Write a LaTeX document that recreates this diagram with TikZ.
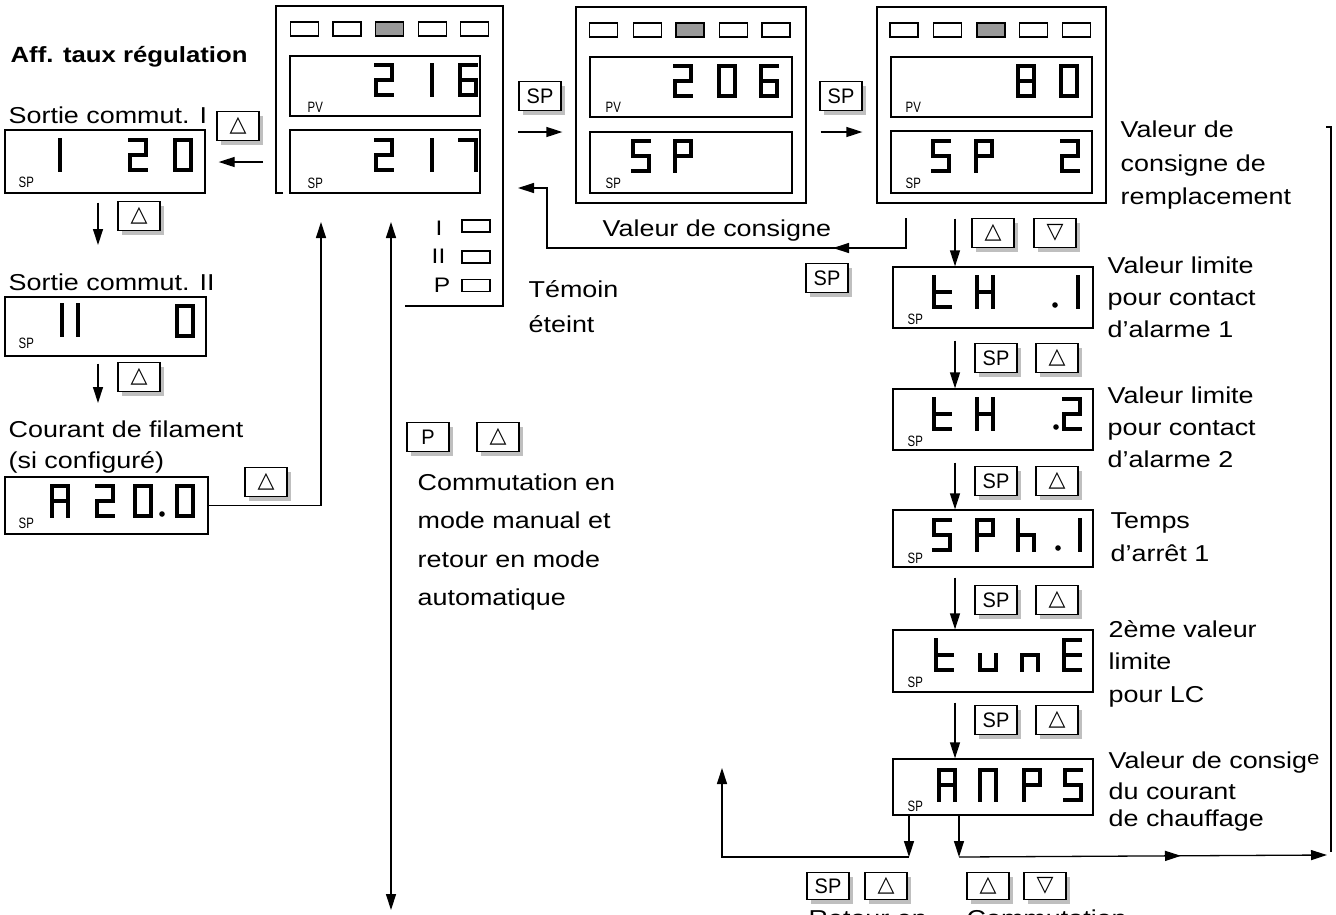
\documentclass[tikz,border=0pt]{standalone}
\usepackage{fontspec}
\setmainfont[FakeStretch=1.17]{Liberation Sans}
\newfontfamily\lblfont[FakeStretch=0.76]{Liberation Sans}
\newfontfamily\btnfont[FakeStretch=0.95]{Liberation Sans}
\newfontfamily\symfont{DejaVu Sans}
\usetikzlibrary{arrows.meta,shadows,decorations.markings}
% seven-segment pieces (cell 20 x 34)
\def\SA{(2,2)--(18,2)}
\def\SB{(18,2)--(18,17)}
\def\SC{(18,17)--(18,32)}
\def\SD{(2,32)--(18,32)}
\def\SE{(2,17)--(2,32)}
\def\SF{(2,2)--(2,17)}
\def\SG{(2,17)--(18,17)}
\def\sgone{\SB\SC}
\def\sgtwo{\SA\SB\SG\SE\SD}
\def\sgsix{\SA\SF\SG\SE\SD\SC}
\def\sgseven{\SA\SB\SC}
\def\sgzero{\SA\SB\SC\SD\SE\SF}
\def\sgeight{\SA\SB\SC\SD\SE\SF\SG}
\def\sgfive{\SA\SF\SG\SC\SD}
\def\sgP{\SA\SB\SG\SF\SE}
\def\sgA{\SA\SB\SC\SE\SF\SG}
\def\sgH{\SB\SC\SE\SF\SG}
\def\sgt{\SF\SE\SG\SD}
\def\sgh{\SF\SE\SG\SC}
\def\sgu{\SE\SD\SC}
\def\sgn{\SG\SE\SC}
\def\sgE{\SA\SF\SG\SE\SD}
\def\sgM{\SA\SB\SC\SE\SF}
\newcommand\gl[3]{\draw[seg,shift={(#1,#2)}] #3;}
\begin{document}
\begin{tikzpicture}[x=1pt,y=-1pt,line width=1.3pt,
  disp/.style={draw,line width=1.3pt,inner sep=0pt},
  panel/.style={draw,line width=1.3pt,inner sep=0pt},
  btn/.style={draw,fill=white,line width=1.2pt,minimum width=42pt,minimum height=29pt,inner sep=0pt,
     drop shadow={shadow xshift=4pt,shadow yshift=-4pt,fill=black!50}},
  spbtn/.style={btn,font=\btnfont\fontsize{21}{21}\selectfont},
  tribtn/.style={btn,font=\symfont\fontsize{22}{22}\selectfont},
  led/.style={draw,line width=1.1pt,minimum width=28pt,minimum height=14pt,inner sep=0pt},
  ledon/.style={led,fill=black!40},
  lbl/.style={font=\lblfont\fontsize{15}{15}\selectfont,anchor=base west,inner sep=0pt},
  txt/.style={font=\fontsize{23}{28}\selectfont,anchor=base west,inner sep=0pt},
  seg/.style={line width=4.4pt,line cap=rect},
  tip/.tip={Triangle[length=16pt,width=10pt]},
  arr/.style={-tip,line width=1.3pt},
  arrtwo/.style={tip-tip,line width=1.3pt},
  midarr/.style={postaction={decorate,decoration={markings,mark=at position #1 with {\arrow{Triangle[length=16pt,width=10pt]}}}}}
]
\fill[white] (0,0) rectangle (1336,914);
\useasboundingbox (0,0) rectangle (1336,914);

% ---------- left column ----------
\node[txt,font=\fontsize{22}{26}\selectfont\bfseries] (title) at (10,62) {Aff. taux régulation};
\node[txt] (s1) at (8,123) {Sortie commut. I};
\node[disp,minimum width=200pt,minimum height=63pt] (d1) at (105,161.5) {};
\node[lbl] (d1l) at (18,187) {SP};
\gl{42}{138}{\sgone} \gl{128}{138}{\sgtwo} \gl{173}{138}{\sgzero}
\node[tribtn] (b1) at (238,126) {△};
\node[tribtn] (b2) at (139,216) {△};

\node[txt] (s2) at (8,290) {Sortie commut. II};
\node[disp,minimum width=201pt,minimum height=59pt] (d2) at (105.5,326.5) {};
\node[lbl] (d2l) at (18,348) {SP};
\draw[seg] (62,305)--(62,335) (78,305)--(78,335);
\gl{175}{304}{\sgzero}
\node[tribtn] (b3) at (139,377) {△};

\node[txt] (s3a) at (8,437) {Courant de filament};
\node[txt] (s3b) at (8,468) {(si configuré)};
\node[disp,minimum width=203pt,minimum height=57pt] (d3) at (106.5,505.5) {};
\node[lbl] (d3l) at (18,528) {SP};
\gl{50}{484}{\sgA} \gl{95}{484}{\sgtwo} \gl{133}{484}{\sgzero}
\fill (162,514) circle (2.8); \gl{175}{484}{\sgzero}
\node[tribtn] (b4) at (266,482) {△};

% ---------- panel 1 ----------
\draw[line width=1.3pt] (283,193) -- (276,193) -- (276,6) -- (503,6) -- (503,306) -- (405,306);
\foreach \i/\x in {1/304.5,2/347,4/432.5,5/474.5} \node[led] (p1l\i) at (\x,29) {};
\node[ledon] (p1l3) at (389.5,29) {};
\node[disp,minimum width=190pt,minimum height=60pt] (p1pv) at (385,86) {};
\node[disp,minimum width=190pt,minimum height=63pt] (p1sp) at (385,161.5) {};
\node[lbl] (p1a) at (307,112) {PV};
\node[lbl] (p1b) at (307,188) {SP};
\gl{374}{63}{\sgtwo} \gl{414}{63}{\sgone} \gl{458}{63}{\sgsix}
\gl{374}{138}{\sgtwo} \gl{414}{138}{\sgone} \gl{458}{138}{\sgseven}
\node[led,minimum height=12pt] (k1) at (476,226) {};
\node[led,minimum height=12pt] (k2) at (476,257) {};
\node[led,minimum height=12pt] (k3) at (476,285.5) {};
\node[font=\fontsize{21}{21}\selectfont,anchor=base east,inner sep=0pt] (k1t) at (443,235) {I};
\node[font=\fontsize{21}{21}\selectfont,anchor=base east,inner sep=0pt] (k2t) at (446,263) {II};
\node[font=\fontsize{21}{21}\selectfont,anchor=base east,inner sep=0pt] (k3t) at (451,292) {P};
\node[txt] (tem1) at (528,297) {Témoin};
\node[txt] (tem2) at (528,332) {éteint};

% ---------- panel 2 ----------
\node[panel,minimum width=230pt,minimum height=196pt] (p2) at (691,105) {};
\foreach \i/\x in {1/603.5,2/647.5,4/733.5,5/776} \node[led] (p2l\i) at (\x,30) {};
\node[ledon] (p2l3) at (690,30) {};
\node[disp,minimum width=202pt,minimum height=60pt] (p2pv) at (691,87) {};
\node[disp,minimum width=202pt,minimum height=61pt] (p2sp) at (691,162.5) {};
\node[lbl] (p2a) at (605,112) {PV};
\node[lbl] (p2b) at (605,188) {SP};
\gl{673}{64}{\sgtwo} \gl{717}{64}{\sgzero} \gl{759}{64}{\sgsix}
\gl{631}{139}{\sgfive} \gl{673}{139}{\sgP}
\node[txt] (vc) at (602,236) {Valeur de consigne};

% ---------- panel 3 ----------
\node[panel,minimum width=229pt,minimum height=196pt] (p3) at (991.5,105) {};
\foreach \i/\x in {1/904,2/947.5,4/1033.5,5/1076.5} \node[led] (p3l\i) at (\x,30) {};
\node[ledon] (p3l3) at (991,30) {};
\node[disp,minimum width=201pt,minimum height=60pt] (p3pv) at (991.5,87) {};
\node[disp,minimum width=201pt,minimum height=62pt] (p3sp) at (991.5,162) {};
\node[lbl] (p3a) at (905,112) {PV};
\node[lbl] (p3b) at (905,188) {SP};
\gl{1016}{64}{\sgeight} \gl{1059}{64}{\sgzero}
\gl{931}{139}{\sgfive} \gl{974}{139}{\sgP} \gl{1060}{139}{\sgtwo}
\node[txt] (vr1) at (1120,137) {Valeur de};
\node[txt] (vr2) at (1120,171) {consigne de};
\node[txt] (vr3) at (1120,204) {remplacement};

% ---------- buttons top ----------
\node[spbtn] (b5) at (540,96) {SP};
\node[spbtn] (b6) at (841,96) {SP};
\node[spbtn] (b7) at (827,278) {SP};
\node[tribtn] (b8) at (993,233) {△};
\node[tribtn] (b9) at (1055,233) {▽};

% ---------- right column ----------
\node[disp,minimum width=200pt,minimum height=61pt] (r1) at (993,297.5) {};
\node[lbl] (r1l) at (907,324) {SP};
\gl{932}{275}{\sgt} \gl{975}{275}{\sgH} \fill (1055,305) circle (2.8); \gl{1060}{275}{\sgone}
\node[txt] (r1a) at (1107,273) {Valeur limite};
\node[txt] (r1b) at (1107,305) {pour contact};
\node[txt] (r1c) at (1107,337) {d'alarme 1};
\node[spbtn] (b10) at (996,358) {SP};
\node[tribtn] (b11) at (1057,358) {△};

\node[disp,minimum width=200pt,minimum height=61pt] (r2) at (993,419.5) {};
\node[lbl] (r2l) at (907,446) {SP};
\gl{932}{397}{\sgt} \gl{975}{397}{\sgH} \fill (1056,427) circle (2.8); \gl{1062}{397}{\sgtwo}
\node[txt] (r2a) at (1107,403) {Valeur limite};
\node[txt] (r2b) at (1107,435) {pour contact};
\node[txt] (r2c) at (1107,467) {d'alarme 2};
\node[spbtn] (b12) at (996,481) {SP};
\node[tribtn] (b13) at (1057,481) {△};

\node[disp,minimum width=200pt,minimum height=57pt] (r3) at (993,538.5) {};
\node[lbl] (r3l) at (907,563) {SP};
\gl{932}{518}{\sgfive} \gl{975}{518}{\sgP} \gl{1016}{518}{\sgh} \fill (1058,548) circle (2.8); \gl{1062}{518}{\sgone}
\node[txt] (r3a) at (1110,528) {Temps};
\node[txt] (r3b) at (1110,561) {d'arrêt 1};
\node[spbtn] (b14) at (996,600) {SP};
\node[tribtn] (b15) at (1057,600) {△};

\node[disp,minimum width=200pt,minimum height=62pt] (r4) at (993,661) {};
\node[lbl] (r4l) at (907,687) {SP};
\gl{934}{638}{\sgt} \gl{978}{638}{\sgu} \gl{1020}{638}{\sgn} \gl{1062}{638}{\sgE}
\node[txt] (r4a) at (1108,637) {2ème valeur};
\node[txt] (r4b) at (1108,669) {limite};
\node[txt] (r4c) at (1108,702) {pour LC};
\node[spbtn] (b16) at (996,720) {SP};
\node[tribtn] (b17) at (1057,720) {△};

\node[disp,minimum width=200pt,minimum height=56pt] (r5) at (993,787) {};
\node[lbl] (r5l) at (907,811) {SP};
\gl{937}{768}{\sgA} \gl{978}{768}{\sgM} \gl{1022}{768}{\sgP} \gl{1063}{768}{\sgfive}
\node[txt] (r5a) at (1108,768) {Valeur de consig\raisebox{4pt}{\fontsize{19}{19}\selectfont e}};
\node[txt] (r5b) at (1108,799) {du courant};
\node[txt] (r5c) at (1108,826) {de chauffage};

% bottom buttons and cut text
\node[spbtn,minimum height=27pt] (b18) at (828,886) {SP};
\node[tribtn,minimum height=27pt] (b19) at (886,886) {△};
\node[tribtn,minimum height=27pt] (b20) at (988,886) {△};
\node[tribtn,minimum height=27pt] (b21) at (1045,886) {▽};
\node[txt] (bt1) at (808,926) {Retour en};
\node[txt] (bt2) at (966,926) {Commutation};

% manual buttons
\node[spbtn] (b22) at (428,437) {P};
\node[tribtn] (b23) at (498,437) {△};
\node[txt] (cm1) at (417,490) {Commutation en};
\node[txt] (cm2) at (417,528) {mode manual et};
\node[txt] (cm3) at (417,567) {retour en mode};
\node[txt] (cm4) at (417,605) {automatique};

% ---------- connectors ----------
\coordinate (p1w) at (276,162);
\draw[arr,shorten <=13pt,shorten >=13pt] (p1w) -- (d1.east |- p1w);
\coordinate (a1e) at (98,245);
\draw[arr] (d1.south -| a1e) ++(0,9) -- (a1e);
\coordinate (a2e) at (98,403);
\draw[arr] (d2.south -| a2e) ++(0,7) -- (a2e);
\coordinate (p1c) at (321,222);
\draw[arr] (d3.east) -| (p1c);
\coordinate (p1d) at (391,222);
\coordinate (dn) at (391,910);
\draw[arrtwo] (p1d) -- (dn);
\coordinate (p1e) at (503,132);
\draw[arr,shorten <=15pt,shorten >=13pt] (p1e) -- (p2.west |- p1e);
\draw[arr,shorten <=14pt,shorten >=14pt] (p2.east |- p1e) -- (p3.west |- p1e);
\coordinate (ls) at (906,218);
\coordinate (lc) at (547,248);
\coordinate (le) at (518,188);
\draw[arr,midarr=103pt] (ls) |- (lc) |- (le);
\coordinate (cx) at (955,0);
\draw[arr,shorten <=15pt] (p3.south -| cx) -- (r1.north -| cx);
\draw[arr,shorten <=12pt] (r1.south -| cx) -- (r2.north -| cx);
\draw[arr,shorten <=12pt] (r2.south -| cx) -- (r3.north -| cx);
\draw[arr,shorten <=10pt] (r3.south -| cx) -- (r4.north -| cx);
\draw[arr,shorten <=10pt] (r4.south -| cx) -- (r5.north -| cx);
\coordinate (bl) at (909,857);
\coordinate (br) at (959,857);
\coordinate (ul) at (722,768);
\draw[arr] (r5.south -| bl) -- (bl);
\draw[arr] (bl) -| (ul);
\draw[arr] (r5.south -| br) -- (br);
\coordinate (rr) at (1327,855);
\draw[arr,midarr=222pt] (br) -- (rr);
\coordinate (rb) at (1331,852);
\coordinate (rt) at (1331,127);
\draw (rb) -- (rt) -- ++(-5,0);
\end{tikzpicture}
\end{document}
